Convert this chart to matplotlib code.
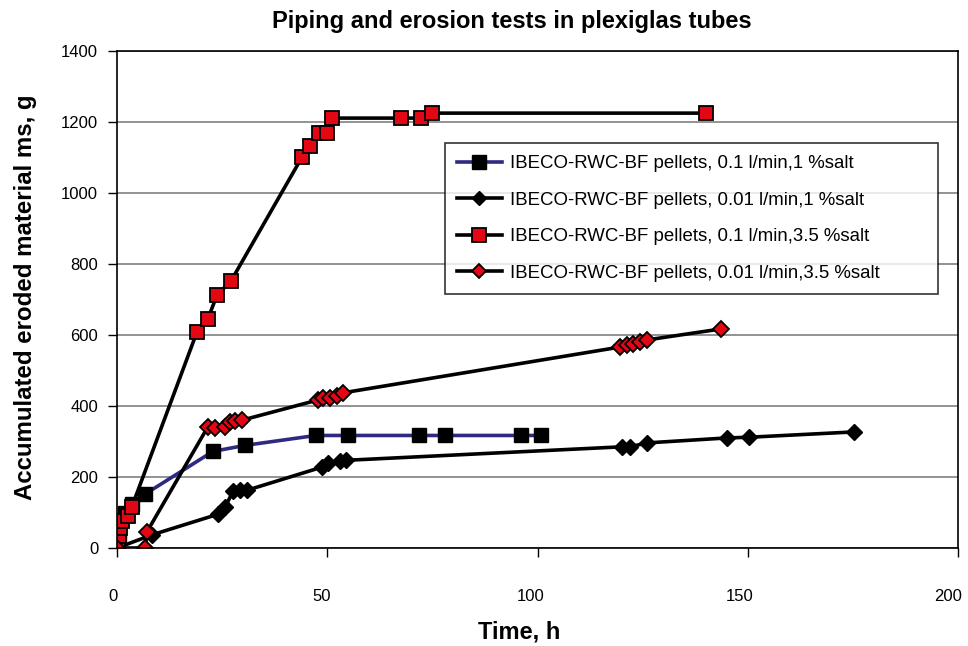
import matplotlib.pyplot as plt
from matplotlib.transforms import ScaledTranslation

plt.rcParams["font.family"] = ["Liberation Sans", "DejaVu Sans"]

# 0.1 l/min, 1 % salt
t_s1 = [0, 0.5, 1, 2, 3.5, 6.7, 22.8, 30.4, 47.3, 54.9, 71.8, 78, 96, 100.8]
m_s1 = [0, 40, 80, 100, 125, 152, 272, 289, 317, 317, 317, 317, 317, 317]

# 0.01 l/min, 1 % salt
t_s2 = [0, 8.3, 24, 25.7, 27.6, 29.3, 31, 48.8, 50.2, 53, 54.5,
        120, 122, 126, 145, 150.3, 175.3]
m_s2 = [0, 37, 95, 115, 160, 162, 163, 228, 240, 244, 247,
        285, 285, 296, 310, 312, 327]

# 0.1 l/min, 3.5 % salt
t_s3 = [0, 0.3, 0.5, 0.8, 1.2, 2.5, 3.5, 19, 21.6, 23.8, 27.1,
        44, 45.9, 48, 49.9, 51.1, 67.5, 72.3, 74.9, 140]
m_s3 = [0, 15, 35, 55, 75, 90, 115, 608, 645, 713, 752,
        1101, 1132, 1169, 1169, 1211, 1211, 1211, 1225, 1225]

# 0.01 l/min, 3.5 % salt
t_s4 = [0, 6.7, 7.1, 21.6, 23.3, 25.7, 26.9, 28, 29.7,
        47.8, 49, 50.7, 52.3, 53.7, 119.6, 121.3, 122.7, 124.4, 126, 143.6]
m_s4 = [0, 0, 45, 341, 338, 341, 355, 358, 360,
        417, 423, 423, 428, 437, 566, 572, 575, 580, 586, 617]

labels = [
    "IBECO-RWC-BF pellets, 0.1 l/min,1 %salt",
    "IBECO-RWC-BF pellets, 0.01 l/min,1 %salt",
    "IBECO-RWC-BF pellets, 0.1 l/min,3.5 %salt",
    "IBECO-RWC-BF pellets, 0.01 l/min,3.5 %salt",
]

red = "#e30613"
navy = "#2e2a82"

fig = plt.figure(figsize=(9.68, 6.46), dpi=100)
ax = fig.add_axes([117 / 968, 1 - 548 / 646, 841 / 968, 497 / 646])

lw = 2.6
ax.plot(t_s1, m_s1, color=navy, lw=lw, marker="s", ms=10.5,
        mfc="black", mec="black", label=labels[0])
ax.plot(t_s2, m_s2, color="black", lw=lw, marker="D", ms=8,
        mfc="black", mec="black", label=labels[1])
ax.plot(t_s3, m_s3, color="black", lw=lw, marker="s", ms=10.5,
        mfc=red, mec="black", mew=1.3, label=labels[2])
ax.plot(t_s4, m_s4, color="black", lw=lw, marker="D", ms=8,
        mfc=red, mec="black", mew=1.3, label=labels[3])

ax.set_xlim(0, 200)
ax.set_ylim(0, 1400)
ax.set_xticks(range(0, 201, 50))
ax.set_yticks(range(0, 1401, 200))
ax.yaxis.grid(True, color="#808080", lw=1.2)
ax.set_axisbelow(True)
ax.tick_params(direction="out", length=6.5, width=1, labelsize=12,
               color="black")
ax.tick_params(axis="x", pad=23)
ax.tick_params(axis="y", pad=7)
# Excel puts the x labels slightly left of their ticks
for i, lab in enumerate(ax.get_xticklabels()):
    dx = (-4 - 1.5 * i) / 100
    lab.set_transform(lab.get_transform()
                      + ScaledTranslation(dx, 0, fig.dpi_scale_trans))
for s in ax.spines.values():
    s.set_linewidth(1.2)
    s.set_color("black")

leg = ax.legend(loc="upper left", bbox_to_anchor=(0.39, 0.509, 0.586, 0.306),
                mode="expand", fontsize=13.4, frameon=True, fancybox=False,
                edgecolor="black", handlelength=2.4, handletextpad=0.45,
                labelspacing=1.05, borderpad=0.65, borderaxespad=0,
                markerscale=0.95)
leg.get_frame().set_linewidth(1.2)

fig.text(0.529, 0.966, "Piping and erosion tests in plexiglas tubes",
         ha="center", va="center", fontsize=17, fontweight="bold")
fig.text(0.536, 0.022, "Time, h", ha="center", va="center",
         fontsize=17, fontweight="bold")
fig.text(0.026, 0.54, "Accumulated eroded material ms, g", ha="center",
         va="center", rotation=90, fontsize=17.3, fontweight="bold")

fig.savefig("out.png", dpi=100)
